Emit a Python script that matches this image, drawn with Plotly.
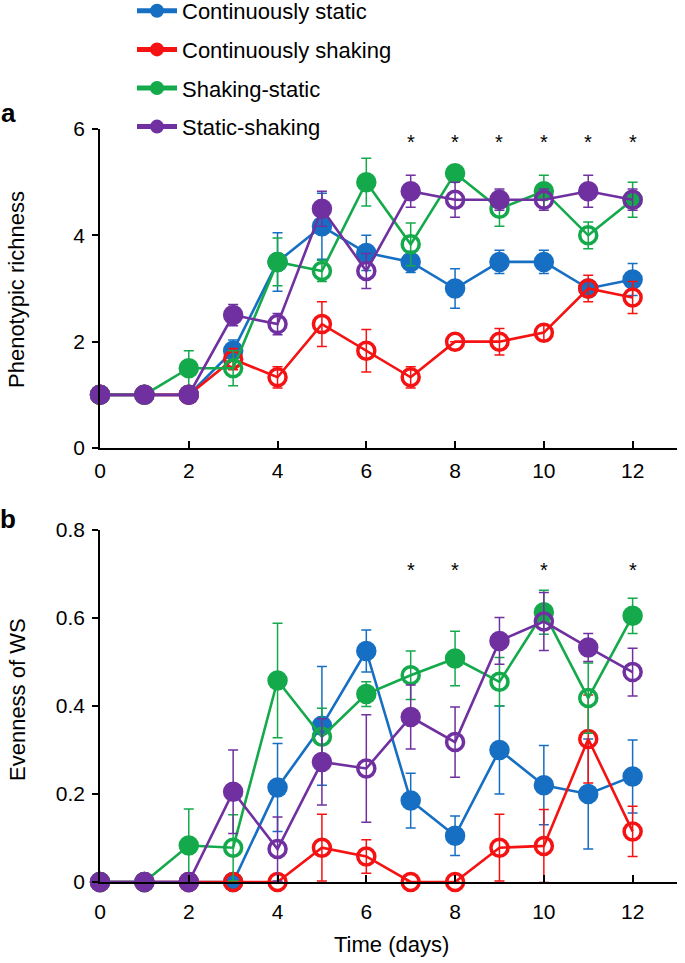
import plotly.graph_objects as go
from plotly.subplots import make_subplots

days = list(range(13))
series_names = ["Continuously static", "Continuously shaking", "Shaking-static", "Static-shaking"]
colors = ["#166fc2", "#f51212", "#14aa4b", "#7030a0"]

# Panel a: phenotypic richness
rich_static = [1, 1, 1, 1.83, 3.5, 4.17, 3.67, 3.5, 3.0, 3.5, 3.5, 3.0, 3.17]
rich_static_err = [0, 0, 0, 0.2, 0.55, 0.62, 0.33, 0.2, 0.37, 0.22, 0.22, 0.1, 0.3]
rich_shaking = [1, 1, 1, 1.67, 1.33, 2.33, 1.83, 1.33, 2.0, 2.0, 2.17, 3.0, 2.83]
rich_shaking_err = [0, 0, 0, 0.2, 0.2, 0.42, 0.4, 0.2, 0, 0.25, 0.15, 0.25, 0.3]
rich_shak_stat = [1, 1, 1.5, 1.5, 3.5, 3.33, 5.0, 3.83, 5.17, 4.5, 4.83, 4.0, 4.67]
rich_shak_stat_err = [0, 0, 0.33, 0.33, 0.45, 0.2, 0.45, 0.4, 0, 0.33, 0.3, 0.25, 0.33]
rich_stat_shak = [1, 1, 1, 2.5, 2.33, 4.5, 3.33, 4.83, 4.67, 4.67, 4.67, 4.83, 4.67]
rich_stat_shak_err = [0, 0, 0, 0.2, 0.2, 0.33, 0.33, 0.3, 0.33, 0.2, 0.2, 0.3, 0.2]

# Panel b: evenness of WS
even_static = [0, 0, 0, 0, 0.215, 0.355, 0.525, 0.185, 0.105, 0.30, 0.22, 0.20, 0.24]
even_static_err = [0, 0, 0, 0, 0.1, 0.135, 0.048, 0.062, 0.045, 0.1, 0.09, 0.125, 0.083]
even_shaking = [0, 0, 0, 0, 0, 0.078, 0.058, 0, 0, 0.078, 0.082, 0.325, 0.115]
even_shaking_err = [0, 0, 0, 0, 0, 0.076, 0.038, 0, 0, 0.076, 0.083, 0.1, 0.057]
even_shak_stat = [0, 0, 0.083, 0.078, 0.458, 0.33, 0.427, 0.47, 0.508, 0.455, 0.613, 0.418, 0.605]
even_shak_stat_err = [0, 0, 0.083, 0.075, 0.13, 0.065, 0.028, 0.055, 0.062, 0.055, 0.05, 0.08, 0.04]
even_stat_shak = [0, 0, 0, 0.205, 0.075, 0.273, 0.258, 0.375, 0.318, 0.548, 0.592, 0.533, 0.477]
even_stat_shak_err = [0, 0, 0, 0.095, 0.073, 0.098, 0.122, 0.073, 0.08, 0.053, 0.066, 0.032, 0.054]

# days drawn as open circles for each series
open_days = [[], [3, 4, 5, 6, 7, 8, 9, 10, 11, 12], [3, 5, 7, 9, 11], [4, 6, 8, 10, 12]]

sig_days_a = [7, 8, 9, 10, 11, 12]
sig_days_b = [7, 8, 10, 12]

panel_a = [(rich_static, rich_static_err), (rich_shaking, rich_shaking_err),
           (rich_shak_stat, rich_shak_stat_err), (rich_stat_shak, rich_stat_shak_err)]
panel_b = [(even_static, even_static_err), (even_shaking, even_shaking_err),
           (even_shak_stat, even_shak_stat_err), (even_stat_shak, even_stat_shak_err)]

FONT = "Liberation Sans, Arial, sans-serif"
W, H = 685, 963
L, R = 100, 8

fig = make_subplots(rows=2, cols=1)

for row, panel in ((1, panel_a), (2, panel_b)):
    for i, (vals, errs) in enumerate(panel):
        symbols = ["circle-open" if d in open_days[i] else "circle" for d in days]
        fig.add_trace(go.Scatter(
            x=days, y=vals, mode="lines+markers", name=series_names[i],
            legendgroup=series_names[i], showlegend=(row == 1),
            line=dict(color=colors[i], width=2.6),
            marker=dict(symbol=symbols, size=17, color=colors[i],
                        line=dict(color=colors[i], width=3.5)),
            error_y=dict(type="data", array=errs, visible=True,
                         color=colors[i], thickness=1.5, width=5),
            cliponaxis=False,
        ), row=row, col=1)

def py(px):
    return 1 - px / H

def px_x(px):
    return (px - L) / (W - L - R)

tf = dict(family=FONT, size=21, color="black")
xa = dict(range=[0, 13], tickvals=[0, 2, 4, 6, 8, 10, 12], ticks="inside", ticklen=7,
          tickwidth=1.5, tickcolor="black", showline=True, linecolor="black", linewidth=1.5,
          showgrid=False, zeroline=False, tickfont=tf)
ya = dict(ticks="outside", ticklen=6, tickwidth=1.5, tickcolor="black",
          showline=True, linecolor="black", linewidth=1.5, showgrid=False, zeroline=False,
          tickfont=tf, ticklabelstandoff=3)
fig.update_layout(
    xaxis=dict(domain=[0, 1], anchor="y", ticklabelstandoff=3, **xa),
    xaxis2=dict(domain=[0, 1], anchor="y2", ticklabelstandoff=10, **xa),
    yaxis=dict(domain=[py(448), py(129)], range=[0, 6], tickvals=[0, 2, 4, 6], **ya),
    yaxis2=dict(domain=[py(882), py(530)], range=[0, 0.8], tickvals=[0, 0.2, 0.4, 0.6, 0.8],
                ticktext=["0", "0.2", "0.4", "0.6", "0.8"], **ya),
)

annotations = []
for d in sig_days_a:
    annotations.append(dict(x=d, y=5.75, xref="x", yref="y", text="*", showarrow=False,
                            font=dict(family=FONT, size=20, color="black"), yanchor="middle"))
for d in sig_days_b:
    annotations.append(dict(x=d, y=0.71, xref="x2", yref="y2", text="*", showarrow=False,
                            font=dict(family=FONT, size=20, color="black"), yanchor="middle"))

annotations += [
    dict(x=px_x(8), y=py(113), xref="paper", yref="paper", text="<b>a</b>", showarrow=False,
         xanchor="center", yanchor="middle", font=dict(family=FONT, size=26, color="black")),
    dict(x=px_x(8), y=py(519), xref="paper", yref="paper", text="<b>b</b>", showarrow=False,
         xanchor="center", yanchor="middle", font=dict(family=FONT, size=26, color="black")),
    dict(x=px_x(17), y=py(290), xref="paper", yref="paper", text="Phenotypic richness",
         showarrow=False, textangle=-90, xanchor="center", yanchor="middle",
         font=dict(family=FONT, size=22, color="black")),
    dict(x=px_x(17), y=py(700), xref="paper", yref="paper", text="Evenness of WS",
         showarrow=False, textangle=-90, xanchor="center", yanchor="middle",
         font=dict(family=FONT, size=22, color="black")),
    dict(x=px_x(391), y=py(944), xref="paper", yref="paper", text="Time (days)",
         showarrow=False, xanchor="center", yanchor="middle",
         font=dict(family=FONT, size=22, color="black")),
]

fig.update_layout(
    width=W, height=H, margin=dict(l=L, r=R, t=0, b=0, autoexpand=False),
    paper_bgcolor="white", plot_bgcolor="white",
    annotations=annotations,
    legend=dict(x=px_x(132), y=1 + 10 / H, xanchor="left", yanchor="top",
                font=dict(family=FONT, size=22, color="black"),
                tracegroupgap=7, traceorder="grouped", bgcolor="rgba(0,0,0,0)",
                itemsizing="constant", itemwidth=40),
)

fig.write_html("out.html", config={"displayModeBar": False},
               post_script="document.body.style.margin='0px';")
